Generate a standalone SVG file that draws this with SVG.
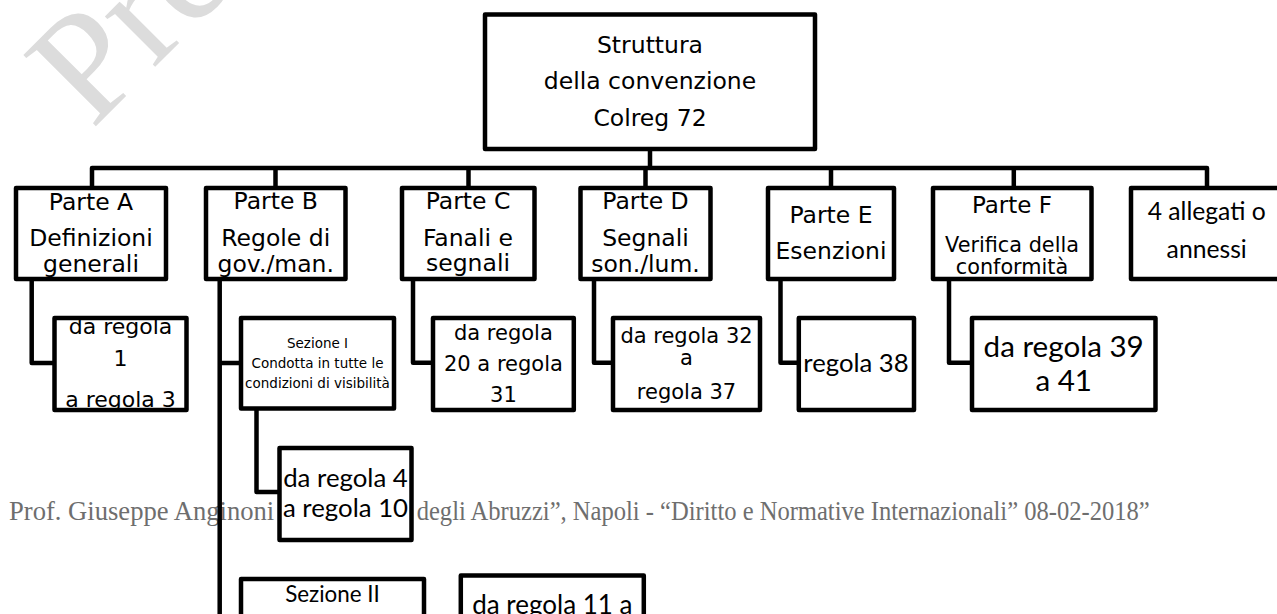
<svg xmlns="http://www.w3.org/2000/svg" width="1277" height="614" viewBox="0 0 1277 614">
<style>
.box{fill:#fff;stroke:#000;stroke-width:4.5;stroke-linejoin:round}
.ln{fill:none;stroke:#000;stroke-width:4.5;stroke-linejoin:round}
.v{font-family:"DejaVu Sans",Verdana,sans-serif;fill:#000;text-anchor:middle}
.c{font-family:Lato,"Liberation Sans",sans-serif;fill:#000;text-anchor:middle}
.foot{font-family:"Liberation Serif","Times New Roman",serif;fill:#6e6e6e;font-size:26.6px}
</style>
<rect width="1277" height="614" fill="#fff"/>
<text x="92" y="130" transform="rotate(-45 92 130)" font-family="Liberation Serif, serif" font-size="155" fill="#dcdcdc">Pre</text>
<g id="footer">
<text class="foot" x="9" y="519.5">Prof. Giuseppe Anginoni</text>
<text class="foot" x="416.7" y="519.5" textLength="733" lengthAdjust="spacingAndGlyphs">degli Abruzzi”, Napoli - “Diritto e Normative Internazionali” 08-02-2018”</text>
</g>
<g id="connectors">
<path class="ln" d="M650,149 V168"/>
<path class="ln" d="M92,188 V168 H1207 V188"/>
<path class="ln" d="M275.5,168 V188 M468.5,168 V188 M645.5,168 V188 M831,168 V188 M1013.8,168 V188"/>
<path class="ln" d="M31.7,279 V363 H54.5"/>
<path class="ln" d="M219.7,279 V625 M219.7,363 H241"/>
<path class="ln" d="M256.5,408.5 V492 H279.5"/>
<path class="ln" d="M413,279 V362.7 H433"/>
<path class="ln" d="M594,279 V362.7 H613"/>
<path class="ln" d="M780.5,279 V362.7 H798.8"/>
<path class="ln" d="M949,279 V362.7 H972"/>
</g>
<g id="root">
<rect class="box" x="485" y="14.5" width="330" height="134.5"/>
<text class="v" font-size="23.5" x="650" y="53">Struttura</text>
<text class="v" font-size="23.5" x="650" y="89.3">della convenzione</text>
<text class="v" font-size="23.5" x="650" y="126">Colreg 72</text>
</g>
<g id="parteA">
<rect class="box" x="16" y="188" width="150" height="91"/>
<text class="v" font-size="23.5" x="91" y="209.5">Parte A</text>
<text class="v" font-size="23.5" x="91" y="245.7">Definizioni</text>
<text class="v" font-size="23.5" x="91" y="271.7">generali</text>
</g>
<g id="parteB">
<rect class="box" x="206" y="188" width="139.5" height="91"/>
<text class="v" font-size="23.5" x="275.75" y="209">Parte B</text>
<text class="v" font-size="23.5" x="275.75" y="245.7">Regole di</text>
<text class="v" font-size="23.5" x="275.75" y="272">gov./man.</text>
</g>
<g id="parteC">
<rect class="box" x="402" y="188" width="132.5" height="91"/>
<text class="v" font-size="23.5" x="468" y="209">Parte C</text>
<text class="v" font-size="23.5" x="468" y="245.7">Fanali e</text>
<text class="v" font-size="23.5" x="468" y="271">segnali</text>
</g>
<g id="parteD">
<rect class="box" x="580.5" y="188" width="130" height="91"/>
<text class="v" font-size="23.5" x="645.5" y="209">Parte D</text>
<text class="v" font-size="23.5" x="645.5" y="245.7">Segnali</text>
<text class="v" font-size="23.5" x="645.5" y="271.7">son./lum.</text>
</g>
<g id="parteE">
<rect class="box" x="768" y="188" width="126" height="91"/>
<text class="v" font-size="23.5" x="831" y="222.7">Parte E</text>
<text class="v" font-size="23.5" x="831" y="259">Esenzioni</text>
</g>
<g id="parteF">
<rect class="box" x="933" y="188" width="158.5" height="91"/>
<text class="v" font-size="23" x="1012" y="213.3">Parte F</text>
<text class="v" font-size="20.8" x="1012" y="251.7">Verifica della</text>
<text class="v" font-size="20.8" x="1012" y="274.3">conformità</text>
</g>
<g id="allegati">
<rect class="box" x="1131" y="188" width="151" height="91"/>
<text class="c" font-size="24.7" x="1206.7" y="220">4 allegati o</text>
<text class="c" font-size="24.7" x="1206.7" y="258.3">annessi</text>
</g>
<g id="regoleA">
<rect class="box" x="54.5" y="318" width="132" height="92"/>
<text class="v" font-size="22" x="120.5" y="334">da regola</text>
<text class="v" font-size="22" x="120.5" y="365.7">1</text>
<text class="v" font-size="22" x="120.5" y="406.7">a regola 3</text>
</g>
<g id="sezione1">
<rect class="box" x="241" y="318" width="153" height="90.5"/>
<text class="v" font-size="13.5" x="317.5" y="348.3">Sezione I</text>
<text class="v" font-size="13.5" x="317.5" y="368.3">Condotta in tutte le</text>
<text class="v" font-size="13.5" x="317.5" y="388.3">condizioni di visibilità</text>
</g>
<g id="regole4">
<rect class="box" x="279.5" y="448" width="132" height="92"/>
<text class="c" font-size="25.8" x="345.5" y="487.3">da regola 4</text>
<text class="c" font-size="25.8" x="345.5" y="516.5">a regola 10</text>
</g>
<g id="regoleC">
<rect class="box" x="433" y="318" width="140.8" height="92"/>
<text class="v" font-size="21" x="503.4" y="340">da regola</text>
<text class="v" font-size="21" x="503.4" y="370.7">20 a regola</text>
<text class="v" font-size="21" x="503.4" y="401.7">31</text>
</g>
<g id="regoleD">
<rect class="box" x="613" y="318" width="147" height="92"/>
<text class="v" font-size="21" x="686.5" y="342.7">da regola 32</text>
<text class="v" font-size="21" x="686.5" y="365">a</text>
<text class="v" font-size="21" x="686.5" y="399">regola 37</text>
</g>
<g id="regoleE">
<rect class="box" x="798.8" y="318" width="115.2" height="92"/>
<text class="c" font-size="25.7" x="856" y="371.7">regola 38</text>
</g>
<g id="regoleF">
<rect class="box" x="972" y="318" width="183.5" height="92"/>
<text class="c" font-size="29.6" x="1063.7" y="356.7">da regola 39</text>
<text class="c" font-size="29.6" x="1063.7" y="391">a 41</text>
</g>
<g id="sezione2">
<rect class="box" x="241" y="579" width="183" height="120"/>
<text class="c" font-size="22.4" x="332.5" y="601.7">Sezione II</text>
</g>
<g id="regole11">
<rect class="box" x="460.8" y="575.5" width="183" height="120"/>
<text class="c" font-size="26" x="552.3" y="614">da regola 11 a</text>
</g>
</svg>
